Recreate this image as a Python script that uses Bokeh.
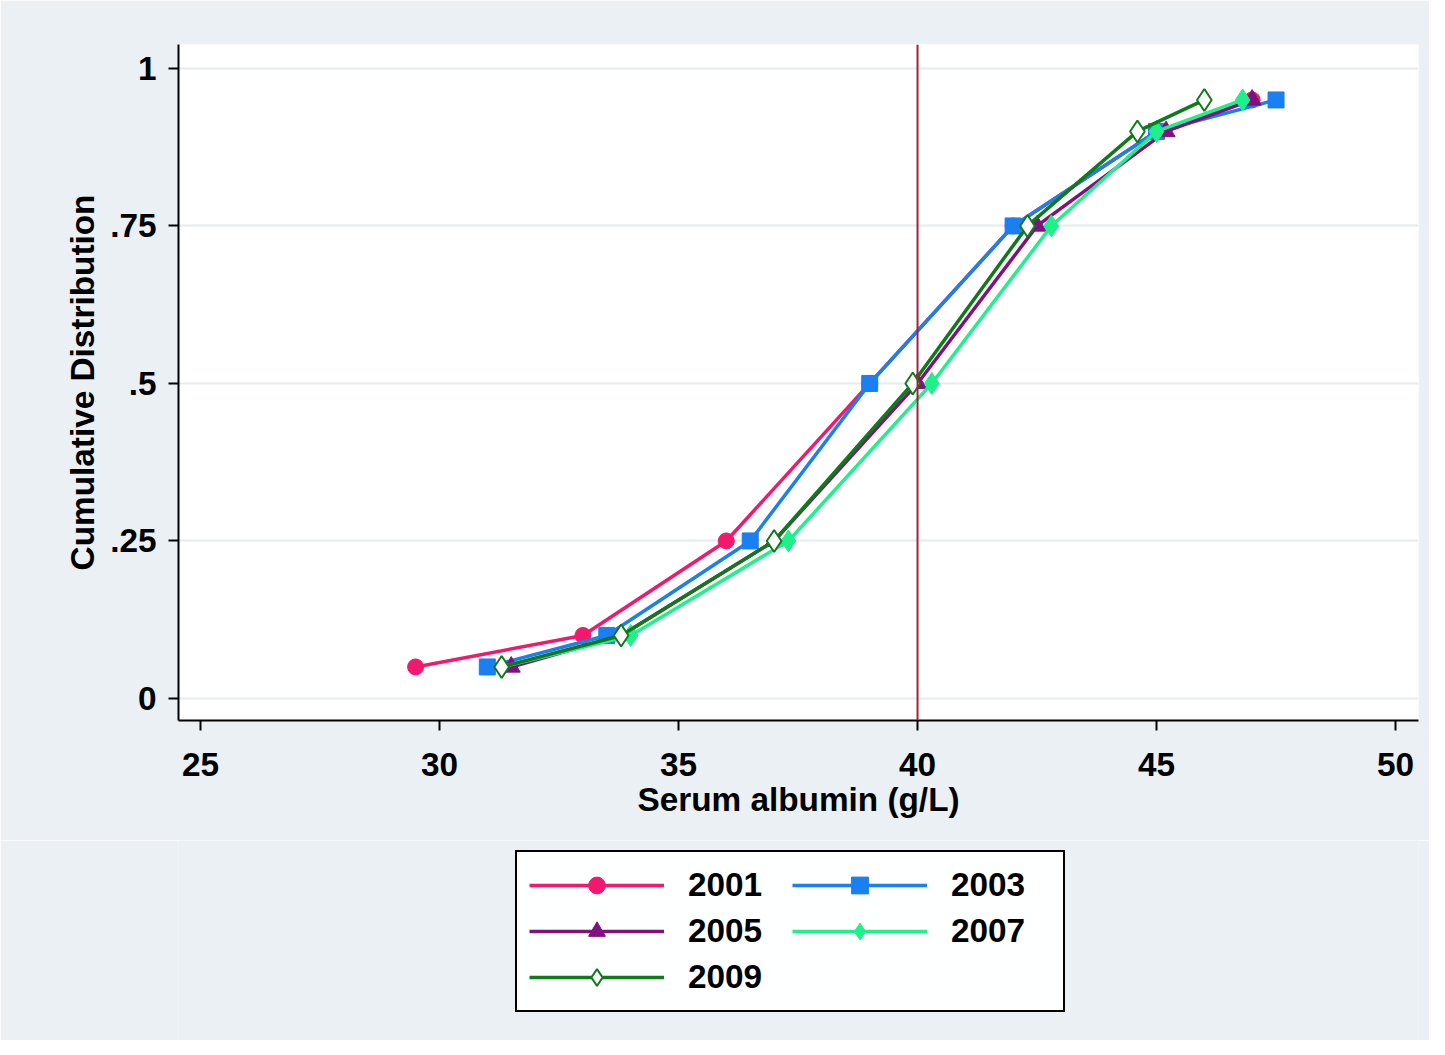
from bokeh.plotting import figure
from bokeh.layouts import column
from bokeh.models import Span, Legend, LegendItem
from bokeh.embed import file_html
from bokeh.resources import INLINE

levels = [0.05, 0.1, 0.25, 0.5, 0.75, 0.9, 0.95]
alb_2001 = [29.5, 33.0, 36.0, 39.0, 42.0, 45.0, 47.0]
alb_2003 = [31.0, 33.5, 36.5, 39.0, 42.0, 45.0, 47.5]
alb_2005 = [31.5, 33.8, 37.0, 40.0, 42.5, 45.2, 47.0]
alb_2007 = [31.3, 34.0, 37.3, 40.3, 42.8, 45.0, 46.8]
alb_2009 = [31.3, 33.8, 37.0, 39.9, 42.3, 44.6, 46.0]
years = ['2001', '2003', '2005', '2007', '2009']

FONT = "Liberation Sans"
BG = "#eaf0f3"

series = [
    (alb_2001, "#f0196e", dict(marker="circle", size=16, color="#f0196e")),
    (alb_2003, "#1a7ff0", dict(marker="square", size=16, color="#1a7ff0")),
    (alb_2005, "#80127f", dict(marker="triangle", size=18, color="#80127f")),
    (alb_2007, "#1ef08a", dict(marker="diamond", size=22, color="#1ef08a")),
    (alb_2009, "#0f7a1a", dict(marker="diamond", size=22, line_color="#0f7a1a",
                                line_width=2, fill_color="white")),
]

p = figure(frame_width=1240, frame_height=676, x_range=(24.54, 50.48), y_range=(-0.035, 1.038),
           output_backend="svg", toolbar_location=None,
           min_border_left=178, min_border_right=11, min_border_top=44, min_border_bottom=120)
p.background_fill_color = "white"
p.border_fill_color = BG
p.outline_line_color = None

p.xgrid.visible = False
p.ygrid.ticker = [0, 0.25, 0.5, 0.75, 1]
p.ygrid.grid_line_color = "#e6ebee"
p.ygrid.grid_line_width = 2

p.xaxis.ticker = [25, 30, 35, 40, 45, 50]
p.yaxis.ticker = [0, 0.25, 0.5, 0.75, 1]
p.yaxis.major_label_overrides = {0: "0", 0.25: ".25", 0.5: ".5", 0.75: ".75", 1: "1"}
p.yaxis.major_label_orientation = "horizontal"
for ax in (p.xaxis, p.yaxis):
    ax.axis_line_color = "black"
    ax.axis_line_width = 2
    ax.major_tick_line_color = "black"
    ax.major_tick_line_width = 2
    ax.major_tick_out = 10
    ax.major_tick_in = 0
    ax.minor_tick_line_color = None
    ax.major_label_text_font = FONT
    ax.major_label_text_font_style = "bold"
    ax.major_label_text_font_size = "25pt"
    ax.major_label_text_color = "black"
    ax.axis_label_text_font = FONT
    ax.axis_label_text_font_style = "bold"
    ax.axis_label_text_font_size = "25pt"
    ax.axis_label_text_color = "black"
p.xaxis.axis_label = "Serum albumin (g/L)"
p.yaxis.axis_label = "Cumulative Distribution"
p.xaxis.major_label_standoff = 22
p.xaxis.axis_label_standoff = 2
p.yaxis.major_label_standoff = 12
p.yaxis.axis_label_standoff = 6

p.add_layout(Span(location=40, dimension="height", line_color="#a3203c", line_width=2))

for xs, col, mk in series:
    p.line(xs, levels, line_color=col, line_width=3.5)
    p.scatter(xs, levels, **mk)

# legend panel: same glyphs, drawn outside its visible range
lp = figure(width=1429, height=200, x_range=(100, 101), y_range=(100, 101),
            output_backend="svg", toolbar_location=None,
            min_border=0)
lp.axis.visible = False
lp.grid.visible = False
lp.outline_line_color = None
lp.background_fill_color = BG
lp.border_fill_color = BG

items = []
for (xs, col, mk), yr in zip(series, years):
    r = [lp.line(xs, levels, line_color=col, line_width=3.5), lp.scatter(xs, levels, **mk)]
    items.append(LegendItem(label=yr, renderers=r))

legend = Legend(items=items, ncols=2, location=(337, 28), orientation="horizontal")
legend.label_text_font = FONT
legend.label_text_font_style = "bold"
legend.label_text_font_size = "25pt"
legend.label_text_color = "black"
legend.glyph_width = 135
legend.glyph_height = 42
legend.label_width = 100
legend.spacing = 4
legend.label_standoff = 24
legend.padding = 12
legend.margin = 0
legend.border_line_color = "black"
legend.border_line_alpha = 1.0
legend.border_line_width = 2
lp.add_layout(legend, "center")

layout = column(p, lp, spacing=0)
open("out.html", "w").write(file_html(layout, INLINE))
